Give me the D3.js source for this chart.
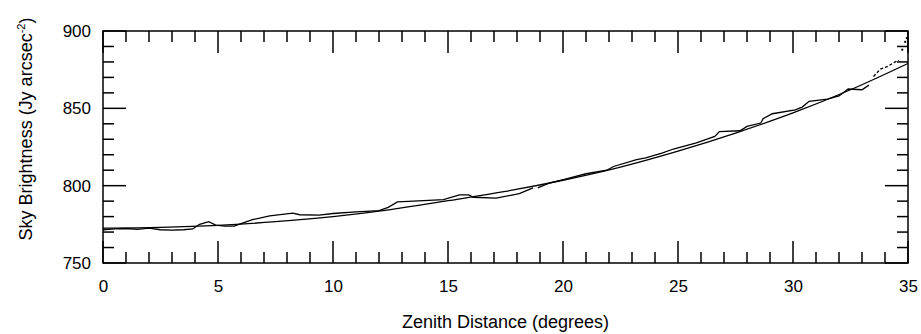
<!DOCTYPE html>
<html lang="en">
<head>
    <meta charset="UTF-8">
    <title>Sky Brightness vs Zenith Distance</title>
    <style>
        body { margin: 0; background: #fff; }
        svg { display: block; }
        text { font-family: "Liberation Sans", Arial, Helvetica, sans-serif; fill: #000; }
    </style>
</head>
<body>
    <div id="stage"></div>

    <script src="https://cdn.jsdelivr.net/npm/d3@7"></script>

    <script>
        // fit curve (degrees, Jy arcsec^-2)
        const fitDeg = [0, 2.5, 5, 7.5, 10, 12.5, 15, 17.5, 20, 22.5, 25, 27.5, 30, 32.5, 35];
        const fitVal = [772.5, 773, 774.3, 776.7, 780, 784.5, 790.3, 796.3, 803.5, 812, 822.3, 834, 847, 862, 879];

        // measured scan, split where the trace breaks
        const scanDeg = [
            [0, 0.5, 1, 1.5, 2, 2.5, 3, 3.5, 3.9, 4.2, 4.6, 4.9, 5.3, 5.7, 6, 6.5, 7.25, 8.25, 8.55, 9.4, 10, 11, 12, 12.4, 12.8, 13.5, 14.8, 15.5, 15.9, 16.1, 17.1, 18.1, 18.7],
            [18.9, 19.4, 20.1, 21, 21.9, 22.2, 23.2, 23.6, 24.3, 24.8, 25.8, 26.6, 26.8, 27.7, 28, 28.6, 28.7, 29.1, 30.1, 30.4, 30.7, 31.5, 32, 32.4, 33, 33.3],
            [33.5, 33.8, 34.1, 34.4, 34.6]
        ];
        const scanVal = [
            [771.5, 772, 772.3, 771.8, 772.5, 771.5, 771.3, 771.5, 772, 775, 776.7, 774.5, 773.8, 773.8, 775.4, 778, 780.5, 782.3, 781.2, 781, 782, 783, 783.8, 786, 789.5, 790, 791, 794, 794, 792.5, 792, 794.8, 798.6],
            [798.6, 801.7, 804.3, 807.7, 810, 812.4, 816.8, 817.9, 821, 823.7, 827.6, 831.8, 835, 835.5, 838.3, 840.5, 843.3, 846.5, 849, 850.8, 854.5, 856, 858, 862.5, 862, 865],
            [870.6, 875.4, 877, 879.7, 881]
        ];
        // scattered dots at the far end
        const dotDeg = [34.75, 34.88, 34.95];
        const dotVal = [887.9, 893, 895.4];

        const xMinor = d3.range(0, 36, 1);
        const xMajor = [0, 5, 10, 15, 20, 25, 30, 35];
        const yMinor = d3.range(750, 901, 10);
        const yMajor = [750, 800, 850, 900];

        const W = 921, H = 334;
        const m = { top: 31, right: 13, bottom: 71, left: 103 };
        const w = W - m.left - m.right;
        const h = H - m.top - m.bottom;

        const svg = d3.select('#stage').append('svg')
            .attr('width', W)
            .attr('height', H);
        const g = svg.append('g').attr('transform', `translate(${m.left},${m.top})`);

        const x = d3.scaleLinear().domain([0, 35]).range([0, w]);
        const y = d3.scaleLinear().domain([750, 900]).range([h, 0]);

        // fit
        const fitLine = d3.line()
            .x(d => x(d[0]))
            .y(d => y(d[1]))
            .curve(d3.curveMonotoneX);
        g.append('path')
            .datum(fitDeg.map((d, i) => [d, fitVal[i]]))
            .attr('d', fitLine)
            .attr('fill', 'none')
            .attr('stroke', '#000')
            .attr('stroke-width', 1.3);

        // measured scan
        const scanLine = d3.line()
            .x(d => x(d[0]))
            .y(d => y(d[1]));
        scanDeg.forEach((seg, k) => {
            const p = g.append('path')
                .datum(seg.map((d, i) => [d, scanVal[k][i]]))
                .attr('d', scanLine)
                .attr('fill', 'none')
                .attr('stroke', '#000')
                .attr('stroke-width', 1.3);
            if (k === 2) p.attr('stroke-dasharray', '3,2');
        });
        g.append('g').selectAll('rect')
            .data(dotDeg.map((d, i) => [d, dotVal[i]]))
            .join('rect')
            .attr('x', d => x(d[0]) - 1)
            .attr('y', d => y(d[1]) - 1)
            .attr('width', 2)
            .attr('height', 2)
            .attr('fill', '#000');

        // tick labels from d3 axes
        const xa = g.append('g')
            .attr('transform', `translate(0,${h})`)
            .call(d3.axisBottom(x).tickValues(xMajor).tickSize(0).tickPadding(17).tickFormat(d3.format('d')));
        const ya = g.append('g')
            .call(d3.axisLeft(y).tickValues(yMajor).tickSize(0).tickPadding(12).tickFormat(d3.format('d')));
        [xa, ya].forEach(a => {
            a.select('.domain').remove();
            a.selectAll('text').attr('font-size', 17).attr('fill', '#000')
                .attr('font-family', '"Liberation Sans", Arial, sans-serif');
        });

        // inward ticks on all four sides
        const tk = g.append('g').attr('stroke', '#000').attr('stroke-width', 1.5);
        const xLen = d => xMajor.includes(d) ? 22 : 11;
        const yLen = d => yMajor.includes(d) ? 23 : 11;
        tk.selectAll('.xb').data(xMinor).join('line').attr('class', 'xb')
            .attr('x1', d => x(d)).attr('x2', d => x(d))
            .attr('y1', h).attr('y2', d => h - xLen(d));
        tk.selectAll('.xt').data(xMinor).join('line').attr('class', 'xt')
            .attr('x1', d => x(d)).attr('x2', d => x(d))
            .attr('y1', 0).attr('y2', d => xLen(d));
        tk.selectAll('.yl').data(yMinor).join('line').attr('class', 'yl')
            .attr('y1', d => y(d)).attr('y2', d => y(d))
            .attr('x1', 0).attr('x2', d => yLen(d));
        tk.selectAll('.yr').data(yMinor).join('line').attr('class', 'yr')
            .attr('y1', d => y(d)).attr('y2', d => y(d))
            .attr('x1', w).attr('x2', d => w - yLen(d));

        g.append('rect')
            .attr('x', 0).attr('y', 0)
            .attr('width', w).attr('height', h)
            .attr('fill', 'none')
            .attr('stroke', '#000')
            .attr('stroke-width', 1.5);

        // titles
        svg.append('text')
            .attr('x', m.left + w / 2)
            .attr('y', 328)
            .attr('text-anchor', 'middle')
            .attr('font-size', 18)
            .text('Zenith Distance (degrees)');

        const yt = svg.append('text')
            .attr('transform', `translate(32,${m.top + h / 2 - 18}) rotate(-90)`)
            .attr('text-anchor', 'middle')
            .attr('font-size', 18);
        yt.append('tspan').text('Sky Brightness  (Jy arcsec');
        yt.append('tspan').attr('dy', -7).attr('font-size', 11).text('-2');
        yt.append('tspan').attr('dy', 7).text(')');
    </script>
</body>
</html>
